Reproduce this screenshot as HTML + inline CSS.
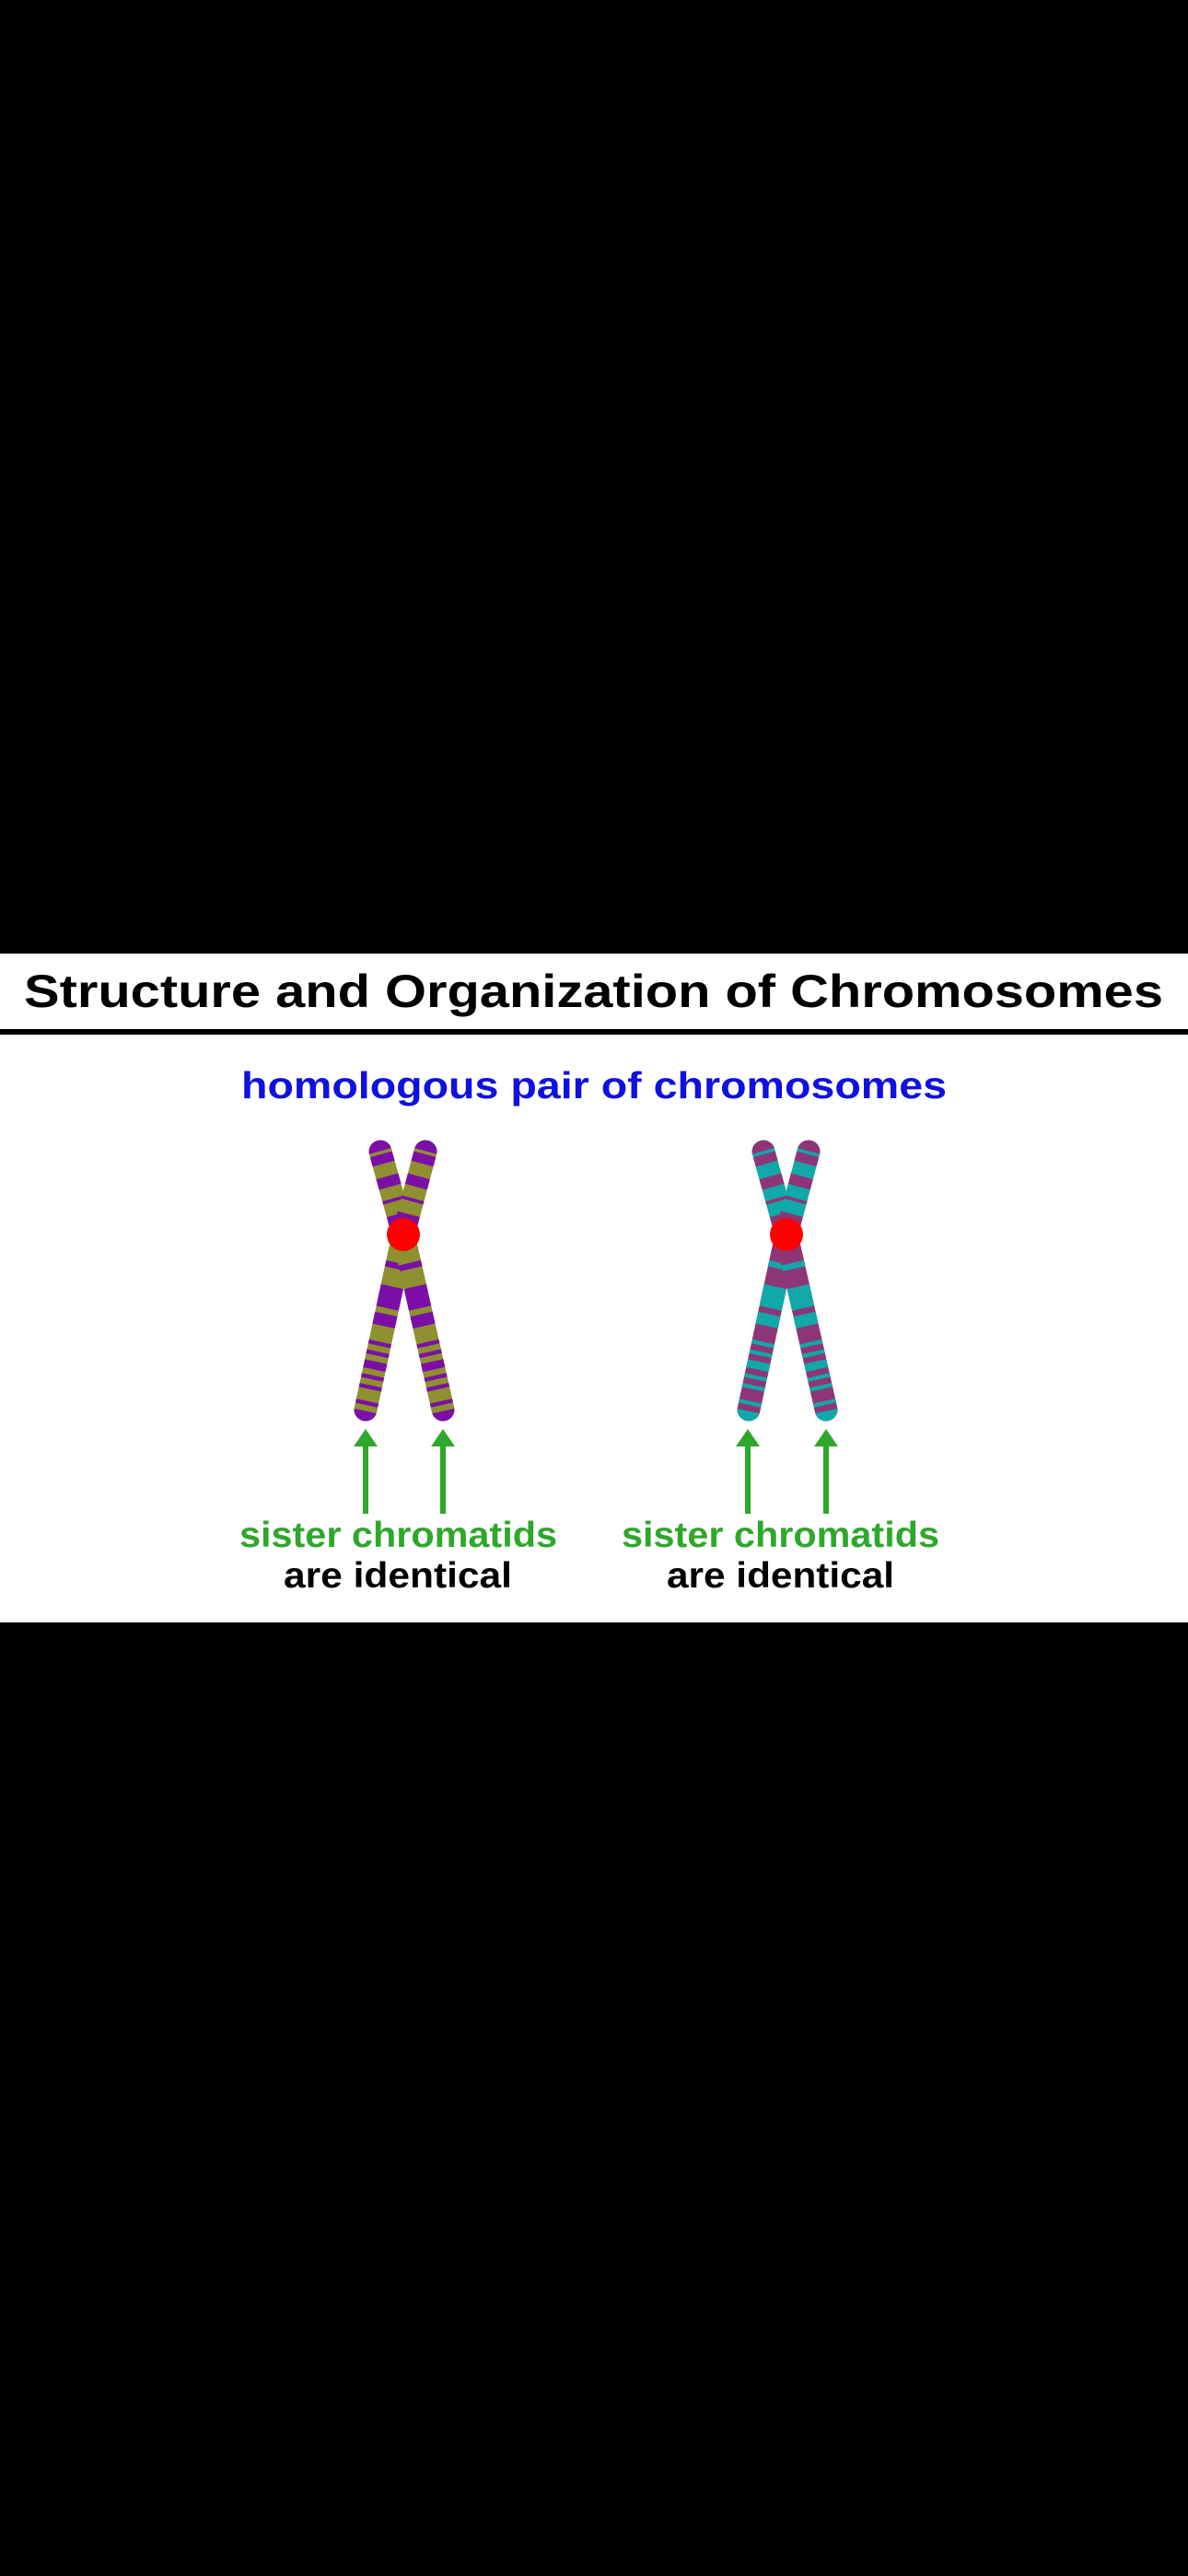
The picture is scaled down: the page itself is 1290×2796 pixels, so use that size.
<!DOCTYPE html>
<html><head><meta charset="utf-8"><style>
html,body{margin:0;padding:0;background:#000;width:1290px;height:2796px;overflow:hidden}
svg{display:block}
text{font-family:"Liberation Sans",sans-serif;font-weight:bold}
</style></head><body>
<svg id="s" width="1290" height="2796">
<rect x="0" y="0" width="1290" height="2796" fill="#000"/>
<rect x="0" y="1035" width="1290" height="726" fill="#fff"/>
<text x="26" y="1093" font-size="50" textLength="1237" lengthAdjust="spacingAndGlyphs" fill="#000">Structure and Organization of Chromosomes</text>
<rect x="0" y="1117" width="1290" height="6" fill="#000"/>
<text x="262" y="1192" font-size="41" textLength="766" lengthAdjust="spacingAndGlyphs" fill="#1010e0">homologous pair of chromosomes</text>
<g id="chrom"></g>
<text x="260" y="1679" font-size="39" textLength="345" lengthAdjust="spacingAndGlyphs" fill="#2ea82a">sister chromatids</text>
<text x="308" y="1723" font-size="39" textLength="248" lengthAdjust="spacingAndGlyphs" fill="#000">are identical</text>
<text x="675" y="1679" font-size="39" textLength="345" lengthAdjust="spacingAndGlyphs" fill="#2ea82a">sister chromatids</text>
<text x="724" y="1723" font-size="39" textLength="247" lengthAdjust="spacingAndGlyphs" fill="#000">are identical</text>
</svg>
<script>
const centromereX = [438, 854];
const baseTop = ['#8f9030', '#10a8a8'];
const bandTop = ['#7b0fa8', '#8e3578'];
const baseBottom = ['#8f9030', '#8e3578'];
const bandBottom = ['#7b0fa8', '#10a8a8'];
const topBands = [[0,0.1],[0.13,0.22],[0.34,0.44],[0.55,0.58],[0.7,0.8],[0.9,1.0]];
const bottomBands = [[0,0.06],[0.2,0.23],[0.32,0.43],[0.46,0.52],[0.6,0.62],[0.65,0.67],[0.7,0.74],[0.77,0.79],[0.82,0.84],[0.9,0.92],[0.95,1.0]];
const arrowX = [397, 481, 812, 897];
const NS = 'http://www.w3.org/2000/svg';
const root = document.getElementById('chrom');
const cy = 1340, topY = 1250, botY = 1530, W = 25;
function mk(tag, attrs, parent){const e=document.createElementNS(NS,tag);for(const k in attrs)e.setAttribute(k,attrs[k]);parent.appendChild(e);return e;}
let clipId = 0;
function arm(x1,y1,x2,y2,base,band,bands,parent,name){
  const L=Math.hypot(x2-x1,y2-y1), a=Math.atan2(y2-y1,x2-x1)*180/Math.PI;
  const g=mk('g',{transform:`translate(${x1},${y1}) rotate(${a})`},parent);
  
  
  const id='c'+(clipId++);
  const cp=mk('clipPath',{id:id},g);
  mk('rect',{x:-W/2,y:-W/2,width:L+W,height:W,rx:W/2},cp);
  const body=mk('g',{'clip-path':`url(#${id})`},g);
  mk('rect',{x:-W/2,y:-W/2,width:L+W,height:W,fill:base},body);
  bands.forEach(b=>{
    const r=mk('rect',{x:-W/2+b[0]*(L+W),y:-W/2,width:(b[1]-b[0])*(L+W),height:W,fill:band},body);
    
    
  });
}
centromereX.forEach((cx,i)=>{
  const g=mk('g',{},root);
  
  
  arm(cx-25,topY,cx,cy,baseTop[i],bandTop[i],topBands,g,'top-arm-left');
  arm(cx+24,topY,cx,cy,baseTop[i],bandTop[i],topBands,g,'top-arm-right');
  arm(cx,cy,cx-41,botY,baseBottom[i],bandBottom[i],bottomBands,g,'bottom-arm-left');
  arm(cx,cy,cx+43,botY,baseBottom[i],bandBottom[i],bottomBands,g,'bottom-arm-right');
  const c=mk('circle',{cx:cx,cy:cy,r:18,fill:'#ff0000'},g);
  
  
});
arrowX.forEach(x=>{
  const g=mk('g',{},root);
  
  
  mk('rect',{x:x-3,y:1566,width:6,height:77,fill:'#2ea82a'},g);
  mk('polygon',{points:`${x},1551 ${x-13},1570 ${x+13},1570`,fill:'#2ea82a'},g);
});
</script>
</body></html>
